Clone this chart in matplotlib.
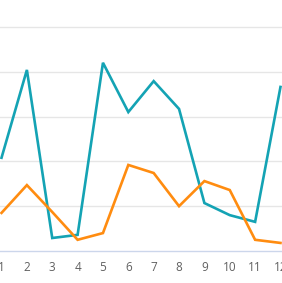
import matplotlib.pyplot as plt

months = [1, 2, 3, 4, 5, 6, 7, 8, 9, 10, 11, 12]
teal_vals = [20.8, 40.4, 2.9, 3.6, 42.0, 31.0, 37.9, 31.7, 10.7, 8.0, 6.5, 36.6]
orange_vals = [8.5, 14.7, 8.7, 2.5, 4.0, 19.2, 17.4, 10.0, 15.6, 13.6, 2.5, 1.8]

fig = plt.figure(figsize=(2.82, 2.83), dpi=100)
ax = fig.add_axes([0, 32 / 283, 1, 251 / 283])

ax.plot(months, teal_vals, color="#14a3b4", lw=1.9, solid_joinstyle="miter")
ax.plot(months, orange_vals, color="#ff8c10", lw=1.9, solid_joinstyle="miter")

ax.set_xlim(0.94, 12.06)
ax.set_ylim(0, 56)
ax.set_yticks([10, 20, 30, 40, 50])
ax.yaxis.grid(True, color="#e6e6e6", lw=1)
ax.set_axisbelow(True)
ax.tick_params(axis="y", left=False, labelleft=False)
ax.set_xticks(months)
ax.set_xticklabels([str(m) for m in months], fontsize=8.5, color="#606060",
                   family="Open Sans")
ax.tick_params(axis="x", length=0, pad=7)

for s in ["top", "left", "right"]:
    ax.spines[s].set_visible(False)
ax.spines["bottom"].set_color("#ccd6eb")
ax.spines["bottom"].set_linewidth(1)

fig.savefig("out.png", dpi=100)
